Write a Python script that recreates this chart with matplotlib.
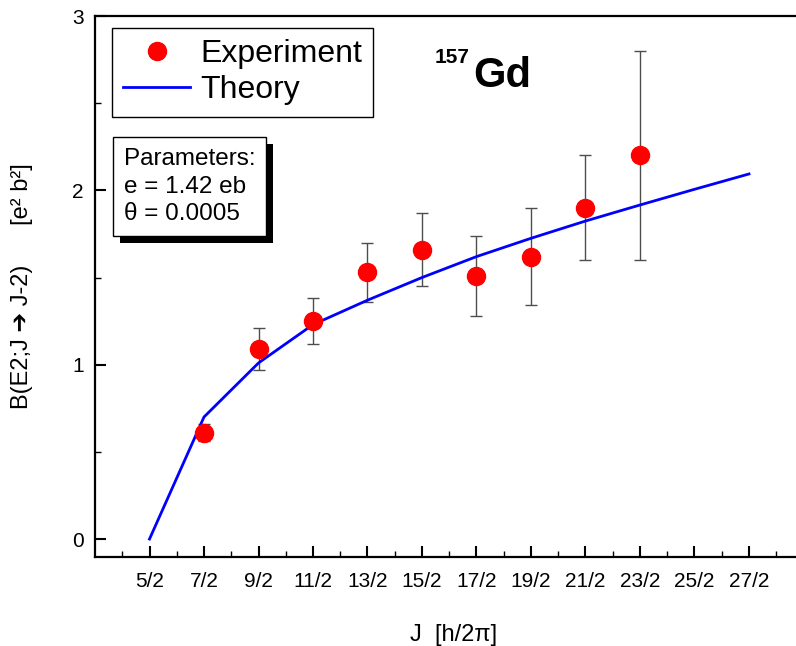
import matplotlib
matplotlib.use('Agg')
import matplotlib.pyplot as plt
import matplotlib.patheffects as pe
from matplotlib.ticker import FixedLocator, MultipleLocator
import numpy as np

plt.rcParams['font.family'] = ['Liberation Sans', 'DejaVu Sans']

# spin values (J) and their labels
j_ticks = [2.5, 3.5, 4.5, 5.5, 6.5, 7.5, 8.5, 9.5, 10.5, 11.5, 12.5, 13.5]
j_labels = ['5/2', '7/2', '9/2', '11/2', '13/2', '15/2', '17/2', '19/2',
            '21/2', '23/2', '25/2', '27/2']

# experiment B(E2) values with errors
j_exp = [3.5, 4.5, 5.5, 6.5, 7.5, 8.5, 9.5, 10.5, 11.5]
b_exp = [0.61, 1.09, 1.25, 1.53, 1.66, 1.51, 1.62, 1.90, 2.20]
b_err = [0.05, 0.12, 0.13, 0.17, 0.21, 0.23, 0.28, 0.30, 0.60]

# theory curve
j_th = [2.5, 3.5, 4.5, 5.5, 6.5, 7.5, 8.5, 9.5, 10.5, 11.5, 12.5, 13.5]
b_th = [0.0, 0.70, 1.01, 1.23, 1.37, 1.50, 1.62, 1.725, 1.824, 1.916,
        2.006, 2.094]

fig = plt.figure(figsize=(7.96, 6.46), dpi=100)
ax = fig.add_axes([95 / 796, 89 / 646, 701 / 796, 541 / 646])

ax.errorbar(j_exp, b_exp, yerr=b_err, fmt='none', ecolor='0.3',
            elinewidth=1, capsize=4, capthick=1, zorder=2)
ax.plot(j_th, b_th, color='#0000ff', lw=2, label='Theory', zorder=3)
ax.plot(j_exp, b_exp, 'o', color='red', ms=13, label='Experiment', zorder=4)

ax.set_xlim(1.5, 1.5 + 701 / 54.5)
ax.set_ylim(-0.103, 3.0)

ax.xaxis.set_major_locator(FixedLocator(j_ticks))
ax.set_xticklabels(j_labels)
ax.xaxis.set_minor_locator(MultipleLocator(1))
ax.set_yticks([0, 1, 2, 3])
ax.yaxis.set_minor_locator(MultipleLocator(0.5))

ax.tick_params(which='major', direction='in', length=8, width=1.5,
               labelsize=15)
ax.tick_params(which='minor', direction='in', length=4, width=1)
ax.tick_params(axis='x', which='major', pad=11)
ax.tick_params(axis='y', which='major', pad=8)

ax.spines['right'].set_visible(False)
for s in ['left', 'bottom', 'top']:
    ax.spines[s].set_linewidth(1.6)

ax.set_xlabel('J  [h/2\u03c0]', fontsize=17)
ax.xaxis.set_label_coords(0.511, -0.124)
ax.set_ylabel('B(E2;J \u2794 J-2)      [e\u00b2 b\u00b2]', fontsize=17)
ax.yaxis.set_label_coords(-0.088, 0.5)

handles, labels = ax.get_legend_handles_labels()
leg = ax.legend(handles[::-1], labels[::-1], loc='upper left',
                bbox_to_anchor=(0.0243, 0.978), borderaxespad=0,
                fontsize=23, fancybox=False, edgecolor='black',
                framealpha=1, handlelength=2.1, handletextpad=0.3,
                borderpad=0.35, labelspacing=0.2)
leg.get_frame().set_linewidth(1)

ax.text(0.485, 0.913, '157', transform=ax.transAxes, fontsize=15,
        fontweight='bold', ha='left', va='baseline')
ax.text(0.539, 0.869, 'Gd', transform=ax.transAxes, fontsize=30,
        fontweight='bold', ha='left', va='baseline')

t = ax.text(0.041, 0.622, 'Parameters:\ne = 1.42 eb\n\u03b8 = 0.0005',
            transform=ax.transAxes, fontsize=17.5, ha='left', va='baseline',
            linespacing=1.35,
            bbox=dict(boxstyle='square,pad=0.45', fc='white', ec='black',
                      lw=1))
t.get_bbox_patch().set_path_effects([
    pe.SimplePatchShadow(offset=(5, -5), shadow_rgbFace='black', alpha=1),
    pe.Normal()])

plt.savefig('out.png', dpi=100)
plt.close()
